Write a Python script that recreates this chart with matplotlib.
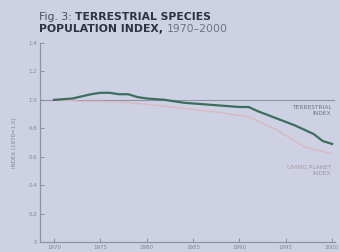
import matplotlib
matplotlib.use("Agg")
import matplotlib.pyplot as plt

# values
terr_years = [1970, 1972, 1974, 1975, 1976, 1977, 1978, 1979, 1980, 1982, 1984,
              1986, 1988, 1990, 1991, 1992, 1994, 1996, 1998, 1999, 2000]
terr_index = [1.00, 1.01, 1.04, 1.05, 1.05, 1.04, 1.04, 1.02, 1.01, 1.00, 0.98,
              0.97, 0.96, 0.95, 0.95, 0.92, 0.87, 0.82, 0.76, 0.71, 0.69]
lpi_years = [1970, 1973, 1975, 1978, 1980, 1984, 1988, 1991, 1994, 1997, 2000]
lpi_index = [1.00, 0.99, 0.99, 0.98, 0.97, 0.94, 0.91, 0.88, 0.79, 0.67, 0.62]
x_ticks = [1970, 1975, 1980, 1985, 1990, 1995, 2000]
y_ticks = [0, 0.2, 0.4, 0.6, 0.8, 1.0, 1.2, 1.4]
y_tick_labels = ["0", "0.2", "0.4", "0.6", "0.8", "1.0", "1.2", "1.4"]

BG = "#cdd1e3"
GREY = "#80849a"

fig = plt.figure(figsize=(3.4, 2.52), dpi=100, facecolor=BG)
ax = fig.add_axes([0.118, 0.04, 0.867, 0.789], facecolor=BG)

ax.axhline(1.0, color="#8e92a4", linewidth=0.8, zorder=1)
ax.plot(lpi_years, lpi_index, color="#dcb9c0", linewidth=1.0, zorder=2)
ax.plot(terr_years, terr_index, color="#3b6e5c", linewidth=1.6, zorder=3)

ax.set_xlim(1968.5, 2000.3)
ax.set_ylim(0, 1.4)
ax.set_xticks(x_ticks)
ax.set_yticks(y_ticks)
ax.set_yticklabels(y_tick_labels)
ax.tick_params(direction="in", length=3, width=0.6, colors=GREY, labelsize=4, pad=2)
for side in ["top", "right"]:
    ax.spines[side].set_visible(False)
for side in ["left", "bottom"]:
    ax.spines[side].set_color("#8e92a4")
    ax.spines[side].set_linewidth(0.9)
ax.set_ylabel("INDEX (1970=1.0)", fontsize=4, color=GREY, labelpad=8)

ax.text(1999.9, 0.965, "TERRESTRIAL\nINDEX", fontsize=4.2, color="#6e7284",
        ha="right", va="top", linespacing=1.3)
ax.text(1999.9, 0.54, "LIVING PLANET\nINDEX", fontsize=4.2, color="#a9929c",
        ha="right", va="top", linespacing=1.3)

# title in mixed weights, pieces placed one after another
fig.canvas.draw()
renderer = fig.canvas.get_renderer()

line1 = [("Fig. 3: ", "normal", "#4a4e60"), ("TERRESTRIAL SPECIES", "bold", "#2e3244")]
line2 = [("POPULATION INDEX, ", "bold", "#2e3244"), ("1970\u20132000", "normal", "#6e7284")]

x0 = 39 / 340
for pieces, yb in [(line1, 1 - 20 / 252), (line2, 1 - 32 / 252)]:
    cur_x = x0
    for txt, weight, color in pieces:
        t = fig.text(cur_x, yb, txt, fontsize=7.8, color=color, fontweight=weight,
                     va="baseline")
        w = t.get_window_extent(renderer).width
        cur_x += w / fig.bbox.width

fig.savefig("out.png", dpi=100, facecolor=BG)
